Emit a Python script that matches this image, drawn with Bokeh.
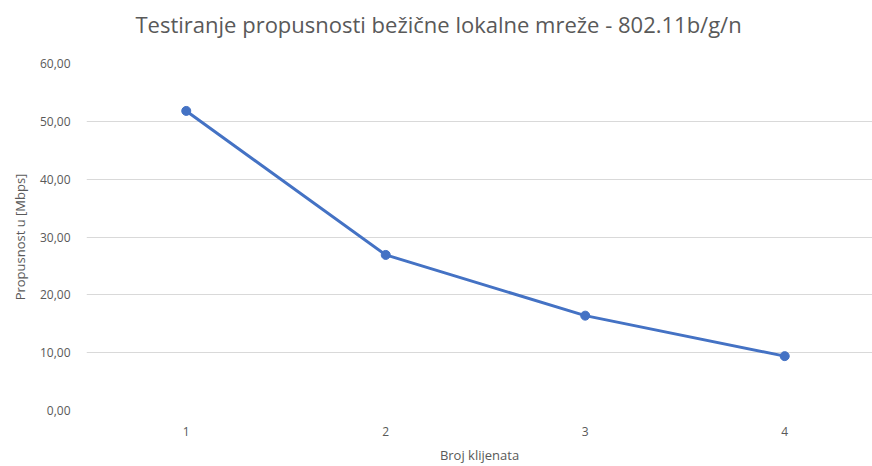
from bokeh.plotting import figure
from bokeh.embed import file_html
from bokeh.resources import INLINE
from bokeh.models import CustomJSTickFormatter, FixedTicker, Range1d, ColumnDataSource, Title

clients = [1, 2, 3, 4]
throughput = [51.8, 26.9, 16.4, 9.4]
y_ticks = [0, 10, 20, 30, 40, 50, 60]
title_text = "Testiranje propusnosti bežične lokalne mreže - 802.11b/g/n"

src = ColumnDataSource(data=dict(x=clients, y=throughput))

FONT = "Open Sans"
GREY = "#595959"

p = figure(width=872, height=466, output_backend="svg", toolbar_location=None,
           x_range=Range1d(0.5, 4.44), y_range=Range1d(0, 60),
           min_border_left=86, min_border_right=0, min_border_top=0, min_border_bottom=0,
           title=None)
p.outline_line_color = None
p.background_fill_color = "white"
p.border_fill_color = "white"

# spacer between title and plot area (added first -> closest to the plot)
p.add_layout(Title(text=" ", text_font_size="2px", standoff=11, text_color="white"), "above")
p.add_layout(Title(text=title_text, text_font=FONT, text_font_size="22px",
                   text_font_style="normal", text_color=GREY, align="left",
                   offset=49, standoff=16, vertical_align="top"), "above")

p.line("x", "y", source=src, line_color="#4472C4", line_width=3)
p.scatter("x", "y", source=src, size=9, fill_color="#4472C4", line_color="#4472C4")

p.xaxis.ticker = FixedTicker(ticks=clients)
p.yaxis.ticker = FixedTicker(ticks=y_ticks)
p.yaxis.formatter = CustomJSTickFormatter(code="return tick.toFixed(2).replace('.', ',');")

for ax in (p.xaxis[0], p.yaxis[0]):
    ax.axis_line_color = None
    ax.major_tick_line_color = None
    ax.minor_tick_line_color = None
    ax.major_tick_out = 0
    ax.major_tick_in = 0
    ax.minor_tick_out = 0
    ax.minor_tick_in = 0
    ax.major_label_text_font = FONT
    ax.major_label_text_font_size = "12px"
    ax.major_label_text_color = GREY
    ax.axis_label_text_font = FONT
    ax.axis_label_text_font_size = "13px"
    ax.axis_label_text_font_style = "normal"
    ax.axis_label_text_color = GREY
    ax.axis_label_text_line_height = 1.0
    ax.major_label_text_line_height = 1.0

p.xaxis.axis_label = "Broj klijenata"
p.yaxis.axis_label = "Propusnost u [Mbps]"
p.xaxis.major_label_standoff = 16
p.xaxis.axis_label_standoff = 7
p.yaxis.major_label_standoff = 16
p.yaxis.axis_label_standoff = 8

p.xgrid.grid_line_color = None
p.ygrid.grid_line_color = "#d9d9d9"
p.ygrid.grid_line_width = 1

open("out.html", "w").write(file_html(p, INLINE))
